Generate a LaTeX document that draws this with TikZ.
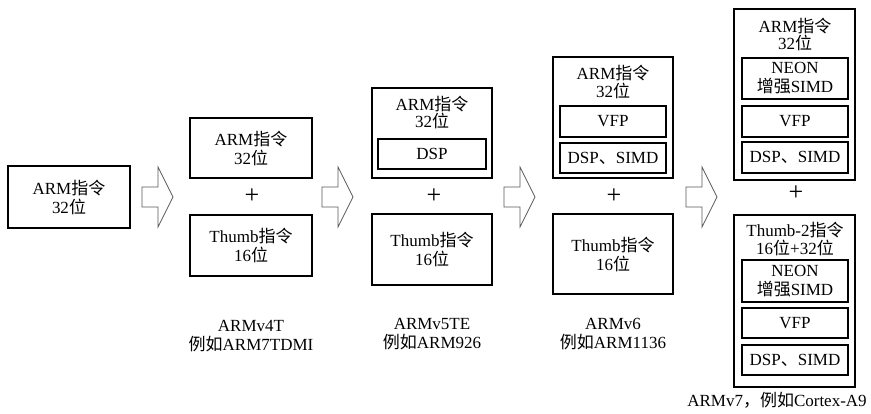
\documentclass[tikz,border=0pt]{standalone}
\usepackage{fontspec}
\setmainfont{Liberation Serif}
\newfontfamily\cjk{Noto Sans CJK SC}
\newcommand{\zh}[1]{{\cjk #1}}
\tikzset{
  outerbox/.style={draw, line width=1.4pt, anchor=north west, inner sep=0pt, outer sep=0pt, align=center},
  innerbox/.style={draw, line width=1.2pt, anchor=north west, inner sep=0pt, outer sep=0pt, align=center},
  txt/.style={inner sep=0pt, align=center},
  plussign/.style={inner sep=0pt, font=\fontsize{26}{26}\selectfont},
  blockarrow/.style={draw=black!65, line width=0.7pt, line join=miter}
}
\begin{document}
\begin{tikzpicture}[x=1pt, y=-1pt, font=\fontsize{17}{19}\selectfont, line join=miter]
    \useasboundingbox (0,0) rectangle (871,413);

    % ARM only
    \node[outerbox, minimum width=122pt, minimum height=62pt] (arm1) at (8,166) {ARM\zh{指令}\\32\zh{位}};

    % ARMv4T
    \node[outerbox, minimum width=122pt, minimum height=60pt] (arm2) at (190,118) {ARM\zh{指令}\\32\zh{位}};
    \node[plussign] (plus2) at (252,196) {+};
    \node[outerbox, minimum width=122pt, minimum height=61pt] (thumb2) at (190,215) {Thumb\zh{指令}\\16\zh{位}};
    \node[txt] (name2) at (251,336) {ARMv4T\\\zh{例如}ARM7TDMI};

    % ARMv5TE
    \node[outerbox, minimum width=120pt, minimum height=90pt] (arm3) at (372,88) {};
    \node[txt, font=\fontsize{17}{17}\selectfont] (arm3t) at (432,112) {ARM\zh{指令}\\32\zh{位}};
    \node[innerbox, minimum width=108pt, minimum height=30pt] (dsp3) at (378,139) {DSP};
    \node[plussign] (plus3) at (434,196) {+};
    \node[outerbox, minimum width=120pt, minimum height=71pt] (thumb3) at (372,214) {Thumb\zh{指令}\\16\zh{位}};
    \node[txt] (name3) at (432,334) {ARMv5TE\\\zh{例如}ARM926};

    % ARMv6
    \node[outerbox, minimum width=120pt, minimum height=121pt] (arm4) at (553,57) {};
    \node[txt, font=\fontsize{17}{18}\selectfont] (arm4t) at (613,82) {ARM\zh{指令}\\32\zh{位}};
    \node[innerbox, minimum width=106pt, minimum height=31pt] (vfp4) at (560,106) {VFP};
    \node[innerbox, minimum width=106pt, minimum height=30pt] (dsp4) at (560,143) {DSP\zh{、}SIMD};
    \node[plussign] (plus4) at (614,196) {+};
    \node[outerbox, minimum width=120pt, minimum height=80pt] (thumb4) at (553,214) {Thumb\zh{指令}\\16\zh{位}};
    \node[txt] (name4) at (613,334) {ARMv6\\\zh{例如}ARM1136};

    % ARMv7
    \node[outerbox, minimum width=121pt, minimum height=171pt] (arm5) at (734,9) {};
    \node[txt, font=\fontsize{17}{17}\selectfont] (arm5t) at (795,34) {ARM\zh{指令}\\32\zh{位}};
    \node[innerbox, minimum width=106pt, minimum height=41pt] (neon5) at (742,58) {NEON\\\zh{增强}SIMD};
    \node[innerbox, minimum width=106pt, minimum height=31pt] (vfp5) at (742,106) {VFP};
    \node[innerbox, minimum width=106pt, minimum height=31pt] (dsp5) at (742,142) {DSP\zh{、}SIMD};
    \node[plussign] (plus5) at (796,193) {+};
    \node[outerbox, minimum width=121pt, minimum height=172pt] (thumb5) at (734,215) {};
    \node[txt, font=\fontsize{17}{18}\selectfont] (thumb5t) at (795,239) {Thumb-2\zh{指令}\\16\zh{位}+32\zh{位}};
    \node[innerbox, minimum width=106pt, minimum height=42pt] (neon5b) at (742,260) {NEON\\\zh{增强}SIMD};
    \node[innerbox, minimum width=106pt, minimum height=30pt] (vfp5b) at (742,308) {VFP};
    \node[innerbox, minimum width=106pt, minimum height=30pt] (dsp5b) at (742,345) {DSP\zh{、}SIMD};
    \node[txt] (name5) at (777,400) {ARMv7\zh{，例如}Cortex-A9};

    % block arrows between the steps
    \foreach \x in {142,322,504,686}
        \draw[blockarrow] (\x,187) -- ++(16,0) -- ++(0,-20) -- ++(15,30) -- ++(-15,30) -- ++(0,-20) -- ++(-16,0) -- cycle;
\end{tikzpicture}
\end{document}
